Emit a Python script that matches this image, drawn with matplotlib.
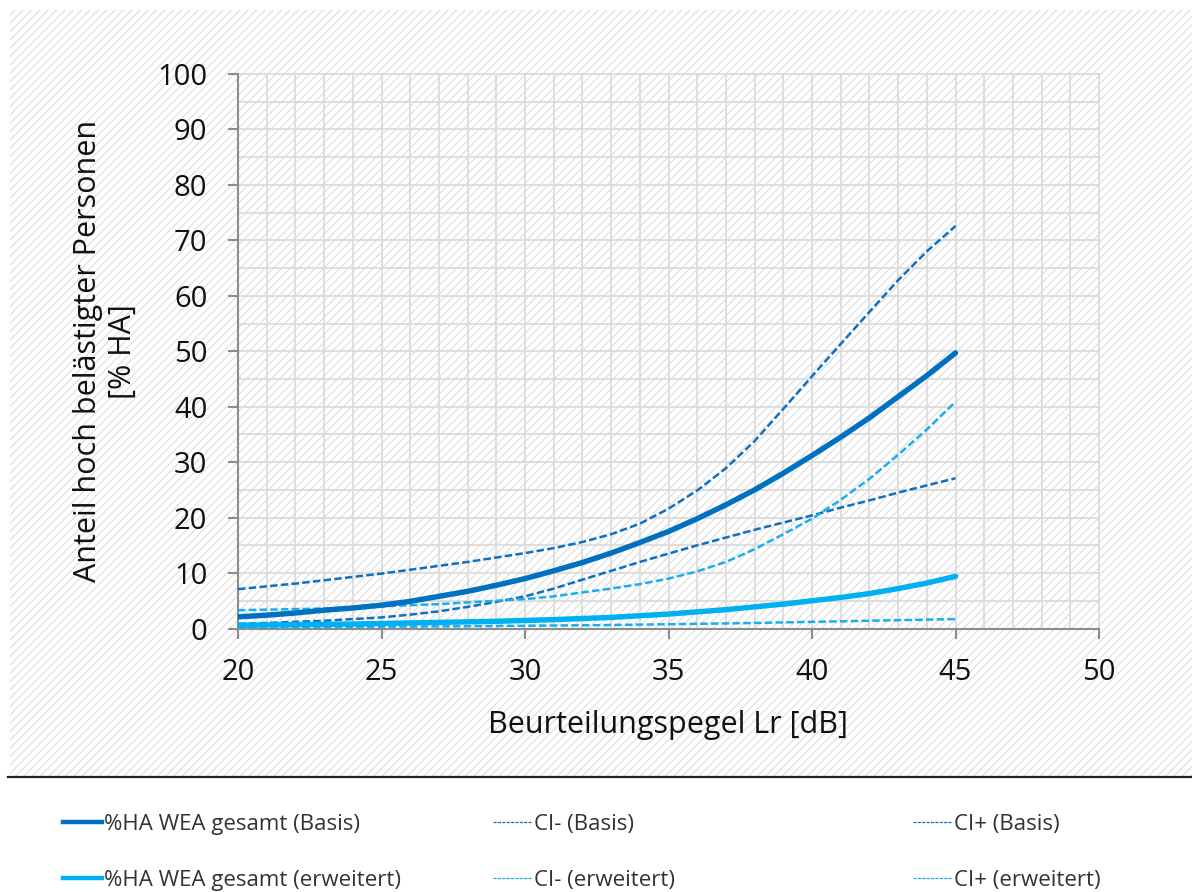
import matplotlib; matplotlib.use('Agg')
import matplotlib.pyplot as plt
from matplotlib.patches import Rectangle
from matplotlib.lines import Line2D
from matplotlib.ticker import MultipleLocator

# Beurteilungspegel Lr [dB]
lr_db = list(range(20, 46))

# %HA curves
ha_basis = [2.1, 2.4, 2.8, 3.3, 3.7, 4.2, 4.9, 5.8, 6.7, 7.8, 9.0, 10.4, 11.9, 13.6, 15.5,
            17.5, 19.8, 22.3, 25.0, 28.0, 31.2, 34.5, 38.0, 41.8, 45.6, 49.7]
ci_minus_basis = [0.8, 1.0, 1.2, 1.4, 1.7, 2.0, 2.5, 3.1, 3.9, 4.8, 5.8, 7.2, 8.8, 10.4, 12.0,
                  13.5, 15.0, 16.4, 17.8, 19.1, 20.4, 21.8, 23.1, 24.5, 25.8, 27.1]
ci_plus_basis = [7.1, 7.6, 8.1, 8.7, 9.3, 9.9, 10.6, 11.3, 12.0, 12.8, 13.6, 14.5, 15.6, 17.0, 18.9,
                 21.6, 24.9, 28.9, 33.8, 39.6, 45.5, 51.3, 57.1, 62.8, 68.0, 72.6]
ha_erw = [0.6, 0.65, 0.7, 0.75, 0.8, 0.9, 1.0, 1.1, 1.2, 1.3, 1.45, 1.6, 1.8, 2.0, 2.3,
          2.6, 3.0, 3.4, 3.9, 4.4, 5.0, 5.6, 6.3, 7.2, 8.2, 9.4]
ci_minus_erw = [0.2, 0.22, 0.25, 0.27, 0.3, 0.32, 0.35, 0.38, 0.41, 0.45, 0.5, 0.54, 0.58, 0.63, 0.7,
                0.77, 0.84, 0.92, 1.0, 1.1, 1.2, 1.3, 1.4, 1.5, 1.6, 1.7]
ci_plus_erw = [3.3, 3.4, 3.5, 3.6, 3.8, 4.0, 4.2, 4.4, 4.7, 5.0, 5.3, 5.8, 6.5, 7.2, 8.0,
               9.0, 10.3, 12.0, 14.3, 17.0, 19.8, 23.2, 27.0, 31.3, 35.9, 40.9]

labels_basis = ['%HA WEA gesamt (Basis)', 'CI- (Basis)', 'CI+ (Basis)']
labels_erw = ['%HA WEA gesamt (erweitert)', 'CI- (erweitert)', 'CI+ (erweitert)']

DARK = '#0070C0'
DARK_DASH = '#0F6FC0'
LIGHT = '#00B0F0'
LIGHT_DASH = '#1AAEEE'
DASH = (0, (3.0, 1.3))

plt.rcParams['font.family'] = ['Open Sans', 'DejaVu Sans']
plt.rcParams['hatch.linewidth'] = 0.8

fig = plt.figure(figsize=(11.92, 8.92), dpi=100)

# hatched chart area + separator line
bg = Rectangle((10 / 1192, 1 - 776 / 892), 1 - 10 / 1192, 766 / 892, transform=fig.transFigure,
               facecolor='white', edgecolor='#dcdcdc', linewidth=0, hatch='////', zorder=-10)
fig.add_artist(bg)
fig.add_artist(Line2D([8 / 1192, 1], [1 - 777 / 892] * 2, transform=fig.transFigure,
                      color='#222222', lw=1.6))

ax = fig.add_axes([238 / 1192, 1 - 628.5 / 892, (1099 - 238) / 1192, (628.5 - 74) / 892])
ax.set_facecolor('none')

ax.plot(lr_db, ha_basis, color=DARK, lw=3.9, solid_capstyle='round', zorder=5)
ax.plot(lr_db, ci_minus_basis, color=DARK_DASH, lw=1.8, linestyle=DASH, zorder=4)
ax.plot(lr_db, ci_plus_basis, color=DARK_DASH, lw=1.8, linestyle=DASH, zorder=4)
ax.plot(lr_db, ha_erw, color=LIGHT, lw=3.9, solid_capstyle='round', zorder=5)
ax.plot(lr_db, ci_minus_erw, color=LIGHT_DASH, lw=1.8, linestyle=DASH, zorder=4)
ax.plot(lr_db, ci_plus_erw, color=LIGHT_DASH, lw=1.8, linestyle=DASH, zorder=4)

ax.set_xlim(20, 50)
ax.set_ylim(0, 100)
ax.xaxis.set_major_locator(MultipleLocator(5))
ax.xaxis.set_minor_locator(MultipleLocator(1))
ax.yaxis.set_major_locator(MultipleLocator(10))
ax.yaxis.set_minor_locator(MultipleLocator(5))
ax.grid(which='both', color='#d9d9d9', lw=1.2, clip_on=False)
ax.set_axisbelow(True)

for s in ['top', 'right']:
    ax.spines[s].set_visible(False)
for s in ['left', 'bottom']:
    ax.spines[s].set_color('#8c8c8c')
    ax.spines[s].set_linewidth(1.5)

ax.tick_params(which='major', direction='out', length=7, width=1.5, color='#8c8c8c',
               labelsize=21, labelcolor='#111111')
ax.tick_params(axis='y', pad=15)
ax.tick_params(axis='x', pad=14)
ax.tick_params(which='minor', length=0)

ax.set_xlabel('Beurteilungspegel Lr [dB]', fontsize=22, color='#111111', labelpad=17)
ax.set_ylabel('Anteil hoch belästigter Personen\n[% HA]', fontsize=22, color='#111111',
              labelpad=14, linespacing=1.2)

# legend: three columns placed like the original
leg_x = [52 / 1192, 482 / 1192, 902 / 1192]
for i in range(3):
    if i == 0:
        h = [Line2D([], [], color=DARK, lw=3.2), Line2D([], [], color=LIGHT, lw=3.2)]
    else:
        h = [Line2D([], [], color=DARK_DASH, lw=0.9, linestyle=(0, (2.5, 1))),
             Line2D([], [], color=LIGHT_DASH, lw=0.9, linestyle=(0, (2.5, 1)))]
    fig.legend(h, [labels_basis[i], labels_erw[i]], loc='upper left',
               bbox_to_anchor=(leg_x[i], 1 - 803 / 892), frameon=False, fontsize=16,
               handlelength=1.75, handletextpad=0.1, labelspacing=1.55, borderpad=0,
               labelcolor='#333333')

plt.savefig('out.png', dpi=100)
